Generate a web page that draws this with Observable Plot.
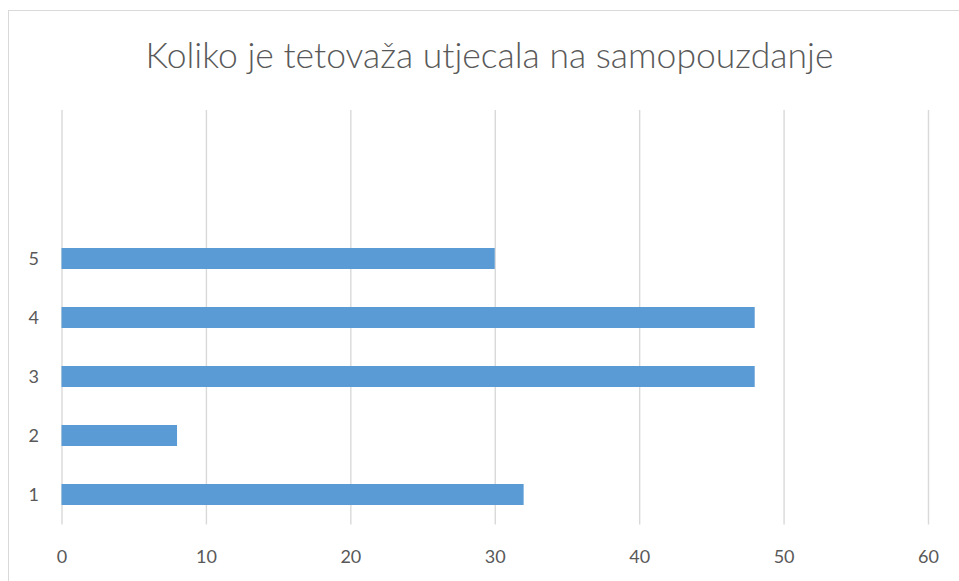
<!DOCTYPE html>
<html>
<head>
<meta charset="utf-8">
<script src="https://cdn.jsdelivr.net/npm/d3@7"></script>
<script src="https://cdn.jsdelivr.net/npm/@observablehq/plot@0.6"></script>
<style>
  html, body { margin: 0; padding: 0; background: #fff; }
  #wrap { position: relative; width: 959px; height: 581px; overflow: hidden; font-family: Lato, "Open Sans", sans-serif; }
  #frame { position: absolute; left: 8px; top: 10px; width: 980px; height: 600px; border-left: 1.5px solid #d9d9d9; border-top: 1.5px solid #d9d9d9; box-sizing: border-box; }
  #title { position: absolute; left: 0; top: 33px; width: 979px; text-align: center; font-size: 35.5px; font-weight: 300; color: #595959; line-height: 44px; }
  #chart { position: absolute; left: 0; top: 0; }
</style>
</head>
<body>
<div id="wrap">
  <div id="frame"></div>
  <div id="title">Koliko je tetovaža utjecala na samopouzdanje</div>
  <div id="chart"></div>
</div>
<script>
const categories = ["1", "2", "3", "4", "5"];
const values = [32, 8, 48, 48, 30];
const emptySlots = ["7", "6"];
const xTicks = [0, 10, 20, 30, 40, 50, 60];

const data = categories.map((c, i) => ({cat: c, value: values[i]}));

const chart = Plot.plot({
  width: 959,
  height: 581,
  marginLeft: 61.5,
  marginRight: 31,
  marginTop: 110,
  marginBottom: 56.5,
  style: {fontFamily: "Lato, 'Open Sans', sans-serif", fontSize: "18px", color: "#595959", background: "transparent"},
  x: {domain: [0, 60], ticks: xTicks, tickSize: 0, tickPadding: 25, label: null},
  y: {domain: [...emptySlots, ...categories.slice().reverse()], paddingInner: 0.645, paddingOuter: 0.3225,
      tickSize: 0, tickPadding: 23, label: null,
      tickFormat: d => emptySlots.includes(d) ? "" : d},
  marks: [
    Plot.ruleX(xTicks, {stroke: "#d9d9d9", strokeWidth: 1.4}),
    Plot.barX(data, {x: "value", y: "cat", fill: "#5b9bd5"})
  ]
});
document.getElementById("chart").appendChild(chart);
</script>
</body>
</html>
